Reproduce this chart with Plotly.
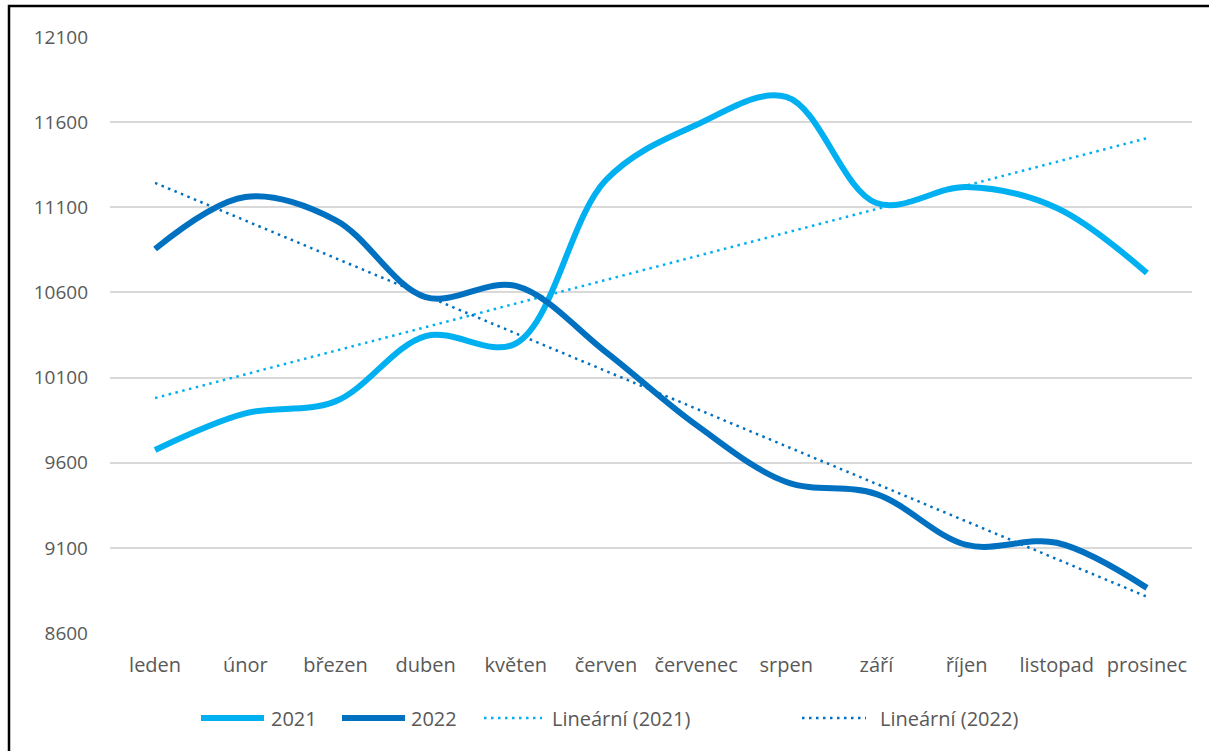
import numpy as np
import plotly.graph_objects as go

months = ["leden", "únor", "březen", "duben", "květen", "červen",
          "červenec", "srpen", "září", "říjen", "listopad", "prosinec"]
y2021 = [9675, 9890, 9960, 10344, 10300, 11260, 11583, 11748, 11125, 11219, 11096, 10714]
y2022 = [10855, 11160, 11025, 10573, 10638, 10250, 9822, 9487, 9416, 9117, 9130, 8865]
yticks = [8600, 9100, 9600, 10100, 10600, 11100, 11600, 12100]

C21 = "#00B0F0"
C22 = "#0070C0"
TXT = "#595959"
FONT = "Open Sans"
FSX = 20
FSY = 19

idx = np.arange(len(months))
t21 = np.polyval(np.polyfit(idx, y2021, 1), idx)
t22 = np.polyval(np.polyfit(idx, y2022, 1), idx)

fig = go.Figure()
fig.add_trace(go.Scatter(x=months, y=t21, mode="lines", name="Lineární (2021)",
                         line=dict(color=C21, width=2.5, dash="2.5px,4.5px"), showlegend=False))
fig.add_trace(go.Scatter(x=months, y=t22, mode="lines", name="Lineární (2022)",
                         line=dict(color=C22, width=2.5, dash="2.5px,4.5px"), showlegend=False))
fig.add_trace(go.Scatter(x=months, y=y2021, mode="lines", name="2021",
                         line=dict(color=C21, width=6, shape="spline", smoothing=1.0), showlegend=False))
fig.add_trace(go.Scatter(x=months, y=y2022, mode="lines", name="2022",
                         line=dict(color=C22, width=6, shape="spline", smoothing=1.0), showlegend=False))

L, R, T, B = 110, 1192, 37, 633
W, H = R - L, B - T
def px(x): return (x - L) / W
def py(y): return (B - y) / H

shapes = [dict(type="rect", xref="paper", yref="paper",
               x0=px(9), x1=px(1220), y0=py(770), y1=py(6),
               line=dict(color="black", width=2.5), fillcolor="rgba(0,0,0,0)", layer="below")]
annotations = []
leg_y = 718
items = [("2021", C21, 6, "solid", 201, 264, 269),
         ("2022", C22, 6, "solid", 342, 405, 409),
         ("Lineární (2021)", C21, 2.5, "2.5px,4.5px", 484, 542, 550),
         ("Lineární (2022)", C22, 2.5, "2.5px,4.5px", 802, 866, 878)]
for name, col, w, dash, x0, x1, tx in items:
    shapes.append(dict(type="line", xref="paper", yref="paper",
                       x0=px(x0), x1=px(x1), y0=py(leg_y), y1=py(leg_y),
                       line=dict(color=col, width=w, dash=dash)))
    annotations.append(dict(xref="paper", yref="paper", x=px(tx), y=py(leg_y),
                            xanchor="left", yanchor="middle", text=name, showarrow=False,
                            font=dict(family=FONT, size=FSX, color=TXT)))

fig.update_layout(
    width=1209, height=751,
    margin=dict(l=L, r=1209 - R, t=T, b=751 - B, autoexpand=False),
    paper_bgcolor="white", plot_bgcolor="white",
    font=dict(family=FONT, size=FSX, color=TXT),
    shapes=shapes, annotations=annotations,
    showlegend=False,
)
fig.update_xaxes(type="category", range=[-0.5, len(months) - 0.5], automargin=False,
                 showgrid=False, showline=False, zeroline=False,
                 ticks="", ticklabelstandoff=18, tickfont=dict(family=FONT, size=FSX, color=TXT))
fig.update_yaxes(range=[8600, 12100], tickvals=yticks, ticktext=[str(v) for v in yticks],
                 automargin=False,
                 showgrid=True, gridcolor="#D9D9D9", gridwidth=1.5, zeroline=False, showline=False,
                 ticks="", ticklabelstandoff=21, tickfont=dict(family=FONT, size=FSY, color=TXT))

fig.write_html("out.html")
